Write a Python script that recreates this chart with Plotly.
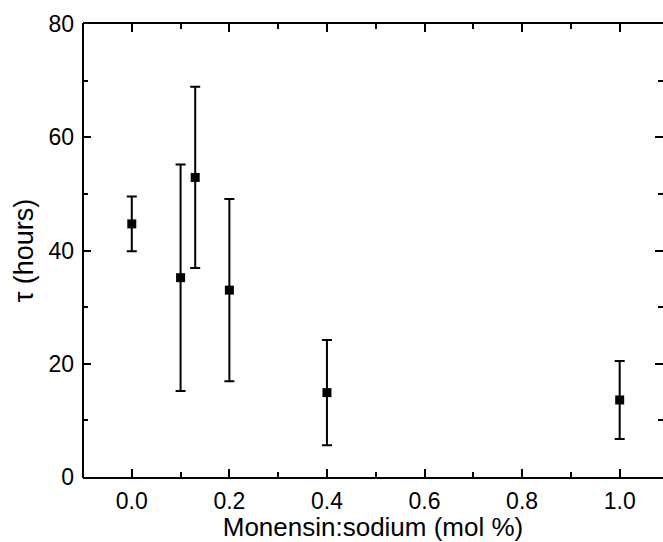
import plotly.graph_objects as go

# Data
ratio = [0.0, 0.1, 0.13, 0.2, 0.4, 1.0]          # Monensin:sodium (mol %)
tau = [44.7, 35.2, 52.9, 33.0, 14.9, 13.6]        # tau (hours)
tau_err = [4.85, 20.0, 16.0, 16.1, 9.3, 6.9]      # error (hours)

x_ticks = [0.0, 0.2, 0.4, 0.6, 0.8, 1.0]
x_tick_text = ["0.0", "0.2", "0.4", "0.6", "0.8", "1.0"]
y_ticks = [0, 20, 40, 60, 80]

FONT = "Liberation Sans, Arial, sans-serif"

fig = go.Figure()
fig.add_trace(go.Scatter(
    x=ratio, y=tau, mode="markers",
    marker=dict(symbol="square", size=9, color="black"),
    error_y=dict(type="data", array=tau_err, visible=True,
                 color="black", thickness=2, width=5),
    showlegend=False,
))

fig.update_layout(
    width=663, height=542,
    margin=dict(l=83, r=0, t=24, b=65),
    paper_bgcolor="white", plot_bgcolor="white",
    font=dict(family=FONT, color="black", size=22),
    xaxis=dict(
        range=[-0.1, 1.0888],
        tickmode="array", tickvals=x_ticks, ticktext=x_tick_text,
        ticks="inside", ticklen=8, tickwidth=2, tickcolor="black",
        minor=dict(ticks="inside", ticklen=5, tickwidth=2, tickcolor="black", dtick=0.1, tick0=0.1),
        showline=True, linewidth=2, linecolor="black", mirror="ticks",
        showgrid=False, zeroline=False,
        tickfont=dict(size=23), ticklabelstandoff=2,
        title=dict(text="Monensin:sodium (mol %)", font=dict(size=26), standoff=3),
    ),
    yaxis=dict(
        range=[0, 80],
        tickmode="array", tickvals=y_ticks,
        ticks="inside", ticklen=8, tickwidth=2, tickcolor="black",
        minor=dict(ticks="inside", ticklen=5, tickwidth=2, tickcolor="black", dtick=10, tick0=10),
        showline=False, mirror="ticks",
        showgrid=False, zeroline=False,
        tickfont=dict(size=23), ticklabelstandoff=8,
        title=dict(text="τ (hours)", font=dict(size=27), standoff=6),
    ),
    shapes=[dict(type="line", xref="paper", yref="paper", x0=0, x1=0, y0=-0.002, y1=1.002,
                 line=dict(color="black", width=2))],
)

fig.write_html("out.html")
